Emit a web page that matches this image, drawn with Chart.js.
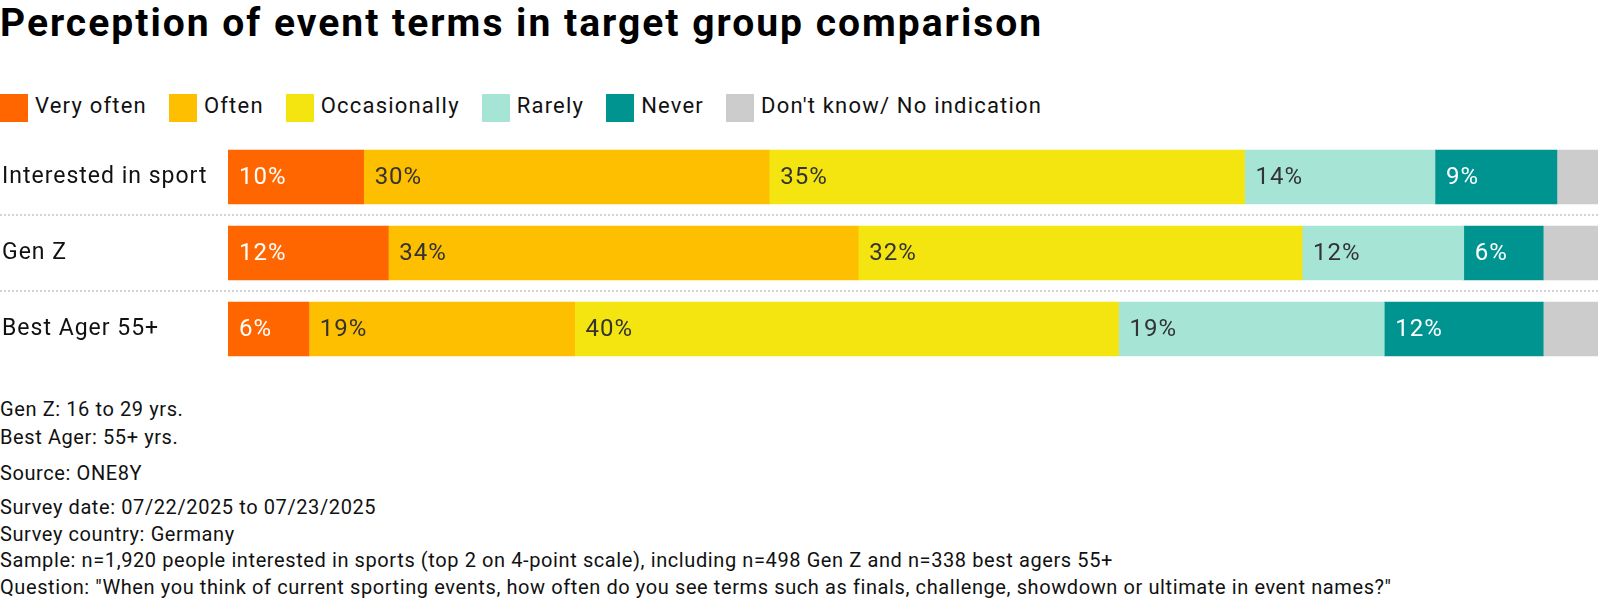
<!DOCTYPE html>
<html>
<head>
<meta charset="utf-8">
<script src="https://cdn.jsdelivr.net/npm/chart.js@4.4.1/dist/chart.umd.min.js"></script>
<style>
  html, body { margin: 0; padding: 0; background: #fff; }
  body { width: 1600px; height: 602px; position: relative; overflow: hidden; font-family: Roboto, "Noto Sans", sans-serif; color: #111; }
  #title { position: absolute; left: 0; top: 0; height: 46px; line-height: 46px; font-size: 39px; font-weight: 700; letter-spacing: 2px; color: #000; white-space: nowrap; }
  #legend { position: absolute; left: 0; top: 92px; height: 32px; display: flex; align-items: center; gap: 22px; font-size: 22px; letter-spacing: 1.2px; }
  #legend .item { display: flex; align-items: center; }
  #legend .box { width: 28px; height: 28px; margin-right: 7px; }
  #legend .txt { position: relative; top: -3px; }
  #chartBox { position: absolute; left: 0; top: 139px; width: 1600px; height: 228px; }
  .note { position: absolute; left: 0; font-size: 20px; letter-spacing: 0.6px; white-space: nowrap; color: #111; }
</style>
</head>
<body>
<div id="title">Perception of event terms in target group comparison</div>
<div id="legend"></div>
<div id="chartBox"><canvas id="chart"></canvas></div>
<div class="note" style="top:395px; line-height:28px;">Gen Z: 16 to 29 yrs.<br>Best Ager: 55+ yrs.</div>
<div class="note" style="top:459px; line-height:28px;">Source: ONE8Y</div>
<div class="note" style="top:494px; line-height:26.7px;">Survey date: 07/22/2025 to 07/23/2025<br>Survey country: Germany<br>Sample: n=1,920 people interested in sports (top 2 on 4-point scale), including n=498 Gen Z and n=338 best agers 55+<br>Question: "When you think of current sporting events, how often do you see terms such as finals, challenge, showdown or ultimate in event names?"</div>
<script>
// categories and series
const groups = ['Interested in sport', 'Gen Z', 'Best Ager 55+'];
const answers = ['Very often', 'Often', 'Occasionally', 'Rarely', 'Never', "Don't know/ No indication"];

// share per answer, one value per group (in %)
const veryOften = [9.9, 11.7, 5.9];
const often = [29.6, 34.3, 19.4];
const occasionally = [34.7, 32.4, 39.7];
const rarely = [13.9, 11.8, 19.4];
const never = [8.9, 5.8, 11.6];
const dontKnow = [3.0, 4.0, 4.0];

const colors = ['#ff6600', '#fdbf00', '#f4e511', '#a6e5d6', '#009490', '#cccccc'];
const labelColors = ['#ffffff', '#333333', '#333333', '#333333', '#ffffff', null];

/* legend */
const legend = document.getElementById('legend');
answers.forEach((a, i) => {
    legend.insertAdjacentHTML('beforeend',
        "<div class='item'><div class='box' style='background:" + colors[i] + "'></div><span class='txt'>" + a + "</span></div>");
});

const values = [veryOften, often, occasionally, rarely, never, dontKnow];
let datasets = [];
for (let s = 0; s < answers.length; s++) {
    datasets.push({
        label: answers[s],
        data: values[s],
        backgroundColor: colors[s],
        borderWidth: 0,
        barThickness: 54
    });
}

// letter spacing for all canvas text
const spacing = {
    id: 'spacing',
    beforeDraw(chart) {
        chart.ctx.letterSpacing = '1px';
    }
};

// dotted separators between rows
const separators = {
    id: 'separators',
    beforeDatasetsDraw(chart) {
        const y = chart.scales.y;
        const ctx = chart.ctx;
        ctx.save();
        ctx.strokeStyle = '#d4d4d4';
        ctx.lineWidth = 2;
        ctx.setLineDash([2, 2]);
        for (let i = 0; i < groups.length - 1; i++) {
            const yy = Math.round((y.getPixelForValue(i) + y.getPixelForValue(i + 1)) / 2);
            ctx.beginPath();
            ctx.moveTo(0, yy);
            ctx.lineTo(chart.chartArea.right, yy);
            ctx.stroke();
        }
        ctx.restore();
    }
};

// percentage labels inside the bars
const barLabels = {
    id: 'barLabels',
    afterDatasetsDraw(chart) {
        const ctx = chart.ctx;
        ctx.save();
        ctx.font = '24px Roboto, "Noto Sans", sans-serif';
        ctx.letterSpacing = '1px';
        ctx.textAlign = 'left';
        ctx.textBaseline = 'middle';
        chart.data.datasets.forEach((ds, i) => {
            if (!labelColors[i]) return;
            const meta = chart.getDatasetMeta(i);
            meta.data.forEach((bar, j) => {
                ctx.fillStyle = labelColors[i];
                ctx.fillText(Math.round(ds.data[j]) + '%', Math.min(bar.base, bar.x) + 11, bar.y + 1);
            });
        });
        ctx.restore();
    }
};

new Chart(document.getElementById('chart'), {
    type: 'bar',
    data: { labels: groups, datasets: datasets },
    options: {
        indexAxis: 'y',
        responsive: true,
        maintainAspectRatio: false,
        animation: false,
        layout: { padding: { left: 2, right: 2, top: 0, bottom: 0 } },
        plugins: { legend: { display: false }, tooltip: { enabled: false }, title: { display: false } },
        scales: {
            x: { stacked: true, min: 0, max: 100, display: false },
            y: {
                stacked: true,
                grid: { display: false },
                border: { display: false },
                ticks: { crossAlign: 'far', color: '#111', font: { size: 23, family: 'Roboto' }, padding: 0 },
                afterFit(scale) {
                    scale.width = 226;
                    scale.paddingTop = 0;
                    scale.paddingBottom = 0;
                }
            }
        }
    },
    plugins: [spacing, separators, barLabels]
});
</script>
</body>
</html>
